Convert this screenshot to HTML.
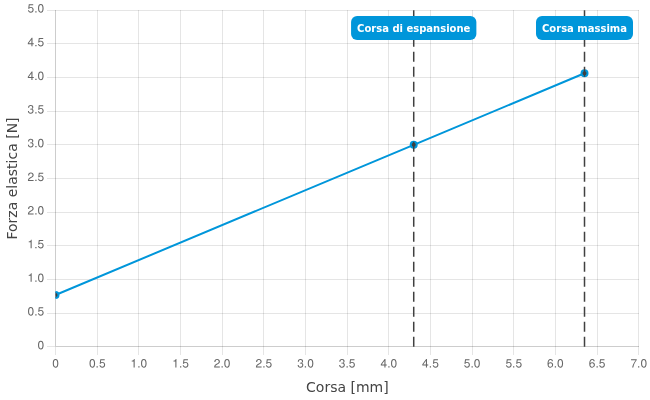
<!DOCTYPE html>
<html><head><meta charset="utf-8"><title>Chart</title>
<style>
html,body{margin:0;padding:0;background:#fff;}
body{width:650px;height:400px;overflow:hidden;}
svg{display:block;}
.tick{font-family:"TeX Gyre Heros","Nimbus Sans","Helvetica Neue",Helvetica,Arial,"Liberation Sans",sans-serif;font-size:12px;fill:#666;}
.title{font-family:"DejaVu Sans",Verdana,sans-serif;font-size:14px;fill:#444;}
.lab{font-family:"DejaVu Sans",Verdana,sans-serif;font-weight:bold;font-size:10px;fill:#fff;}
</style></head><body>
<svg width="650" height="400" viewBox="0 0 650 400">
<rect width="650" height="400" fill="#fff"/>
<g stroke="#000" stroke-opacity="0.1" stroke-width="1" shape-rendering="crispEdges"><line x1="55.5" y1="10.0" x2="55.5" y2="355.0"/><line x1="97.5" y1="10.0" x2="97.5" y2="355.0"/><line x1="138.5" y1="10.0" x2="138.5" y2="355.0"/><line x1="180.5" y1="10.0" x2="180.5" y2="355.0"/><line x1="222.5" y1="10.0" x2="222.5" y2="355.0"/><line x1="263.5" y1="10.0" x2="263.5" y2="355.0"/><line x1="305.5" y1="10.0" x2="305.5" y2="355.0"/><line x1="347.5" y1="10.0" x2="347.5" y2="355.0"/><line x1="388.5" y1="10.0" x2="388.5" y2="355.0"/><line x1="430.5" y1="10.0" x2="430.5" y2="355.0"/><line x1="472.5" y1="10.0" x2="472.5" y2="355.0"/><line x1="513.5" y1="10.0" x2="513.5" y2="355.0"/><line x1="555.5" y1="10.0" x2="555.5" y2="355.0"/><line x1="597.5" y1="10.0" x2="597.5" y2="355.0"/><line x1="638.5" y1="10.0" x2="638.5" y2="355.0"/><line x1="47.0" y1="346.5" x2="639.0" y2="346.5"/><line x1="47.0" y1="313.5" x2="639.0" y2="313.5"/><line x1="47.0" y1="279.5" x2="639.0" y2="279.5"/><line x1="47.0" y1="245.5" x2="639.0" y2="245.5"/><line x1="47.0" y1="212.5" x2="639.0" y2="212.5"/><line x1="47.0" y1="178.5" x2="639.0" y2="178.5"/><line x1="47.0" y1="144.5" x2="639.0" y2="144.5"/><line x1="47.0" y1="111.5" x2="639.0" y2="111.5"/><line x1="47.0" y1="77.5" x2="639.0" y2="77.5"/><line x1="47.0" y1="43.5" x2="639.0" y2="43.5"/><line x1="47.0" y1="10.5" x2="639.0" y2="10.5"/></g>
<g stroke="#000" stroke-opacity="0.1" stroke-width="1" shape-rendering="crispEdges"><line x1="55.5" y1="10.0" x2="55.5" y2="346.0"/><line x1="56.0" y1="346.5" x2="639.0" y2="346.5"/></g>
<g class="tick"><text transform="matrix(1,0.0005,0,1,0,-0.0277)" x="55.58" y="367.5" text-anchor="middle">0</text><text transform="matrix(1,0.0005,0,1,0,-0.0486)" x="97.24" y="367.5" text-anchor="middle">0.5</text><text transform="matrix(1,0.0005,0,1,0,-0.0694)" x="138.89" y="367.5" text-anchor="middle">1.0</text><text transform="matrix(1,0.0005,0,1,0,-0.0902)" x="180.55" y="367.5" text-anchor="middle">1.5</text><text transform="matrix(1,0.0005,0,1,0,-0.1111)" x="222.20" y="367.5" text-anchor="middle">2.0</text><text transform="matrix(1,0.0005,0,1,0,-0.1319)" x="263.86" y="367.5" text-anchor="middle">2.5</text><text transform="matrix(1,0.0005,0,1,0,-0.1527)" x="305.51" y="367.5" text-anchor="middle">3.0</text><text transform="matrix(1,0.0005,0,1,0,-0.1735)" x="347.17" y="367.5" text-anchor="middle">3.5</text><text transform="matrix(1,0.0005,0,1,0,-0.1944)" x="388.83" y="367.5" text-anchor="middle">4.0</text><text transform="matrix(1,0.0005,0,1,0,-0.2152)" x="430.48" y="367.5" text-anchor="middle">4.5</text><text transform="matrix(1,0.0005,0,1,0,-0.2360)" x="472.14" y="367.5" text-anchor="middle">5.0</text><text transform="matrix(1,0.0005,0,1,0,-0.2568)" x="513.79" y="367.5" text-anchor="middle">5.5</text><text transform="matrix(1,0.0005,0,1,0,-0.2777)" x="555.45" y="367.5" text-anchor="middle">6.0</text><text transform="matrix(1,0.0005,0,1,0,-0.2985)" x="597.10" y="367.5" text-anchor="middle">6.5</text><text transform="matrix(1,0.0005,0,1,0,-0.3193)" x="638.76" y="367.5" text-anchor="middle">7.0</text><text transform="matrix(1,0.0005,0,1,0,-0.018)" x="44.3" y="349.20" text-anchor="end">0</text><text transform="matrix(1,0.0005,0,1,0,-0.018)" x="44.3" y="315.54" text-anchor="end">0.5</text><text transform="matrix(1,0.0005,0,1,0,-0.018)" x="44.3" y="281.88" text-anchor="end">1.0</text><text transform="matrix(1,0.0005,0,1,0,-0.018)" x="44.3" y="248.22" text-anchor="end">1.5</text><text transform="matrix(1,0.0005,0,1,0,-0.018)" x="44.3" y="214.56" text-anchor="end">2.0</text><text transform="matrix(1,0.0005,0,1,0,-0.018)" x="44.3" y="180.90" text-anchor="end">2.5</text><text transform="matrix(1,0.0005,0,1,0,-0.018)" x="44.3" y="147.24" text-anchor="end">3.0</text><text transform="matrix(1,0.0005,0,1,0,-0.018)" x="44.3" y="113.58" text-anchor="end">3.5</text><text transform="matrix(1,0.0005,0,1,0,-0.018)" x="44.3" y="79.92" text-anchor="end">4.0</text><text transform="matrix(1,0.0005,0,1,0,-0.018)" x="44.3" y="46.26" text-anchor="end">4.5</text><text transform="matrix(1,0.0005,0,1,0,-0.018)" x="44.3" y="12.60" text-anchor="end">5.0</text></g>
<text class="title" x="347.42" y="392" text-anchor="middle">Corsa [mm]</text>
<text class="title" transform="translate(17,178.50) rotate(-90)" text-anchor="middle">Forza elastica [N]</text>
<clipPath id="ca"><rect x="55.48" y="10.2" width="583.18" height="336.6"/></clipPath>
<g clip-path="url(#ca)"><polyline points="55.48,294.96 413.72,144.84 584.51,73.25" fill="none" stroke="#0096da" stroke-width="2" stroke-linejoin="round"/><circle cx="55.48" cy="294.96" r="3.0" fill="#404040" stroke="#0096da" stroke-width="2.0"/><circle cx="413.72" cy="144.84" r="3.0" fill="#404040" stroke="#0096da" stroke-width="2.0"/><circle cx="584.51" cy="73.25" r="3.0" fill="#404040" stroke="#0096da" stroke-width="2.0"/></g>
<line x1="413.72" y1="346.8" x2="413.72" y2="10.2" stroke="#404040" stroke-width="1.5" stroke-dasharray="10,5"/><rect x="351.07" y="16" width="125.30" height="24" rx="6" fill="#0096da"/><text class="lab" x="413.72" y="31.8" text-anchor="middle">Corsa di espansione</text>
<line x1="584.51" y1="346.8" x2="584.51" y2="10.2" stroke="#404040" stroke-width="1.5" stroke-dasharray="10,5"/><rect x="536.01" y="16" width="96.99" height="24" rx="6" fill="#0096da"/><text class="lab" x="584.51" y="31.8" text-anchor="middle">Corsa massima</text>
</svg></body></html>
